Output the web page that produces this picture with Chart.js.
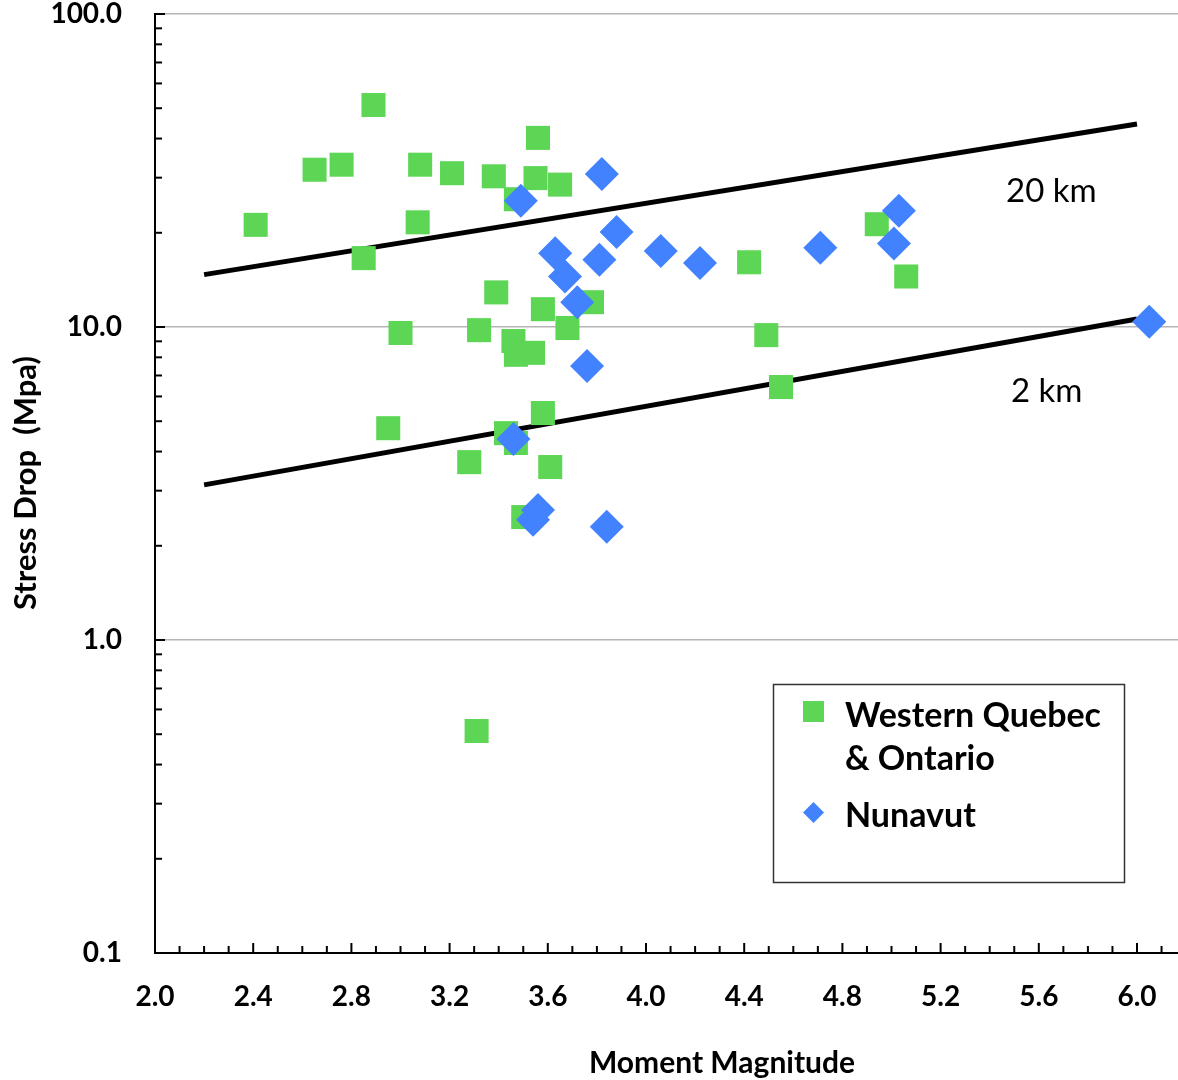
<!DOCTYPE html>
<html>
<head>
<meta charset="utf-8">
<script src="https://cdn.jsdelivr.net/npm/chart.js@4.4.1/dist/chart.umd.min.js"></script>
<style>
  html, body { margin: 0; padding: 0; background: #fff; }
  #wrap { width: 1178px; height: 1080px; }
</style>
</head>
<body>
<div id="wrap"><canvas id="stressChart"></canvas></div>
<script>
// Western Quebec & Ontario events
const wqoMagnitude = [2.41, 2.65, 2.76, 2.89, 2.85, 3.08, 3.07, 3.21, 3.38, 3.56, 3.55, 3.65,
  3.47, 3.39, 3.00, 3.32, 3.58, 3.68, 3.78, 3.46, 3.47, 3.54, 2.95, 3.58, 3.43, 3.47,
  3.28, 3.61, 3.50, 3.31, 4.49, 4.55, 4.42, 4.94, 5.06];
const wqoStress = [21.2, 31.8, 33.0, 51.2, 16.6, 33.0, 21.6, 31.0, 30.3, 40.2, 29.9, 28.5,
  25.6, 12.9, 9.57, 9.77, 11.4, 9.93, 12.0, 9.02, 8.15, 8.27, 4.75, 5.31, 4.58, 4.26,
  3.70, 3.57, 2.47, 0.512, 9.42, 6.43, 16.1, 21.3, 14.5];

// Nunavut events
const nunavutMagnitude = [3.82, 3.49, 3.88, 3.63, 3.67, 3.81, 3.72, 4.06, 4.22, 4.71, 5.03,
  5.01, 6.05, 3.76, 3.46, 3.56, 3.54, 3.84];
const nunavutStress = [30.8, 25.3, 20.1, 17.2, 14.5, 16.4, 12.0, 17.5, 16.0, 17.9, 23.5,
  18.5, 10.4, 7.50, 4.39, 2.60, 2.42, 2.30];

// reference lines (source depth)
const lineMagnitude = [2.2, 6.0];
const stress20km = [14.7, 44.5];
const stress2km = [3.13, 10.6];

const xTickLabels = ['2.0', '2.4', '2.8', '3.2', '3.6', '4.0', '4.4', '4.8', '5.2', '5.6', '6.0'];
const yTickLabels = ['0.1', '1.0', '10.0', '100.0'];

const GREEN = '#5CD654';
const BLUE = '#4282FF';
const FONT = 'Lato, "Open Sans", sans-serif';

function toPoints(xs, ys) {
  return xs.map((x, i) => ({ x, y: ys[i] }));
}

function isDecade(v) {
  return yTickLabels.includes(v.toFixed(1)) && Math.abs(Math.log10(v) - Math.round(Math.log10(v))) < 1e-9;
}

const decorPlugin = {
  id: 'decor',
  afterDraw(chart) {
    const { ctx, chartArea, scales } = chart;
    const x = scales.x, y = scales.y;
    ctx.save();
    ctx.strokeStyle = '#000';
    ctx.lineWidth = 2;
    // inward tick marks
    x.ticks.forEach((t) => {
      const px = x.getPixelForValue(t.value);
      const len = t.label ? 10 : 7;
      ctx.beginPath();
      ctx.moveTo(px, chartArea.bottom);
      ctx.lineTo(px, chartArea.bottom - len);
      ctx.stroke();
    });
    y.ticks.forEach((t) => {
      const py = y.getPixelForValue(t.value);
      const len = t.label ? 10 : 7;
      ctx.beginPath();
      ctx.moveTo(chartArea.left, py);
      ctx.lineTo(chartArea.left + len, py);
      ctx.stroke();
    });

    ctx.fillStyle = '#000';
    // axis titles
    ctx.font = 'bold 30px ' + FONT;
    ctx.textAlign = 'center';
    ctx.textBaseline = 'alphabetic';
    ctx.fillText('Moment Magnitude', 722, 1073);
    ctx.save();
    ctx.translate(36, 483);
    ctx.rotate(-Math.PI / 2);
    ctx.font = 'bold 31px ' + FONT;
    ctx.fillText('Stress Drop  (Mpa)', 0, 0);
    ctx.restore();

    // line labels
    ctx.font = '33px ' + FONT;
    ctx.textAlign = 'left';
    ctx.fillText('20 km', 1006, 202);
    ctx.fillText('2 km', 1011, 402);

    // legend
    ctx.lineWidth = 1.5;
    ctx.strokeStyle = '#333';
    ctx.strokeRect(773.5, 684.5, 351, 198);
    ctx.fillStyle = GREEN;
    ctx.fillRect(803, 701, 21, 21);
    ctx.fillStyle = BLUE;
    ctx.beginPath();
    ctx.moveTo(813.5, 802);
    ctx.lineTo(824, 812.5);
    ctx.lineTo(813.5, 823);
    ctx.lineTo(803, 812.5);
    ctx.closePath();
    ctx.fill();
    ctx.fillStyle = '#000';
    ctx.font = 'bold 34px ' + FONT;
    ctx.fillText('Western Quebec', 845, 727);
    ctx.fillText('& Ontario', 845, 770);
    ctx.fillText('Nunavut', 845, 827);
    ctx.restore();
  }
};

new Chart(document.getElementById('stressChart'), {
  type: 'scatter',
  data: {
    datasets: [
      {
        label: 'Nunavut',
        data: toPoints(nunavutMagnitude, nunavutStress),
        pointStyle: 'rectRot',
        pointRadius: 17,
        backgroundColor: BLUE,
        borderWidth: 0,
        order: 1
      },
      {
        label: 'Western Quebec & Ontario',
        data: toPoints(wqoMagnitude, wqoStress),
        pointStyle: 'rect',
        pointRadius: 17,
        backgroundColor: GREEN,
        borderWidth: 0,
        order: 2
      },
      {
        label: '20 km',
        data: toPoints(lineMagnitude, stress20km),
        showLine: true,
        pointRadius: 0,
        borderColor: '#000',
        borderWidth: 5,
        order: 3
      },
      {
        label: '2 km',
        data: toPoints(lineMagnitude, stress2km),
        showLine: true,
        pointRadius: 0,
        borderColor: '#000',
        borderWidth: 5,
        order: 3
      }
    ]
  },
  options: {
    responsive: true,
    maintainAspectRatio: false,
    animation: false,
    events: [],
    layout: { autoPadding: false, padding: { top: 14, right: 0, bottom: 0, left: 0 } },
    plugins: { legend: { display: false }, tooltip: { enabled: false } },
    scales: {
      x: {
        type: 'linear',
        min: 2.0,
        max: 6.167,
        border: { color: '#000', width: 2 },
        grid: { display: false, drawTicks: false },
        afterBuildTicks: (scale) => {
          const ticks = [];
          for (let i = 0; i <= 41; i++) ticks.push({ value: Math.round((2 + i * 0.1) * 10) / 10 });
          scale.ticks = ticks;
        },
        ticks: {
          autoSkip: false,
          maxRotation: 0,
          padding: 27,
          color: '#000',
          font: { family: FONT, size: 28, weight: 'bold' },
          callback: (v) => (xTickLabels.includes(v.toFixed(1)) ? v.toFixed(1) : '')
        },
        afterFit: (scale) => {
          scale.height = 127;
          scale.paddingLeft = 0;
          scale.paddingRight = 0;
        }
      },
      y: {
        type: 'logarithmic',
        min: 0.1,
        max: 100,
        border: { color: '#000', width: 2 },
        grid: {
          drawTicks: false,
          lineWidth: 1.5,
          color: (c) => (c.tick && c.tick.value > 0.2 && isDecade(c.tick.value) ? '#b5b5b5' : 'rgba(0,0,0,0)')
        },
        afterBuildTicks: (scale) => {
          const ticks = [];
          for (let e = -1; e <= 1; e++) {
            for (let m = 1; m <= 9; m++) ticks.push({ value: m * Math.pow(10, e) });
          }
          ticks.push({ value: 100 });
          scale.ticks = ticks;
        },
        ticks: {
          autoSkip: false,
          padding: 33,
          color: '#000',
          font: { family: FONT, size: 28, weight: 'bold' },
          callback: (v) => (isDecade(v) ? v.toFixed(1) : '')
        },
        afterFit: (scale) => {
          scale.width = 155;
          scale.paddingTop = 0;
          scale.paddingBottom = 0;
        }
      }
    }
  },
  plugins: [decorPlugin]
});
</script>
</body>
</html>
